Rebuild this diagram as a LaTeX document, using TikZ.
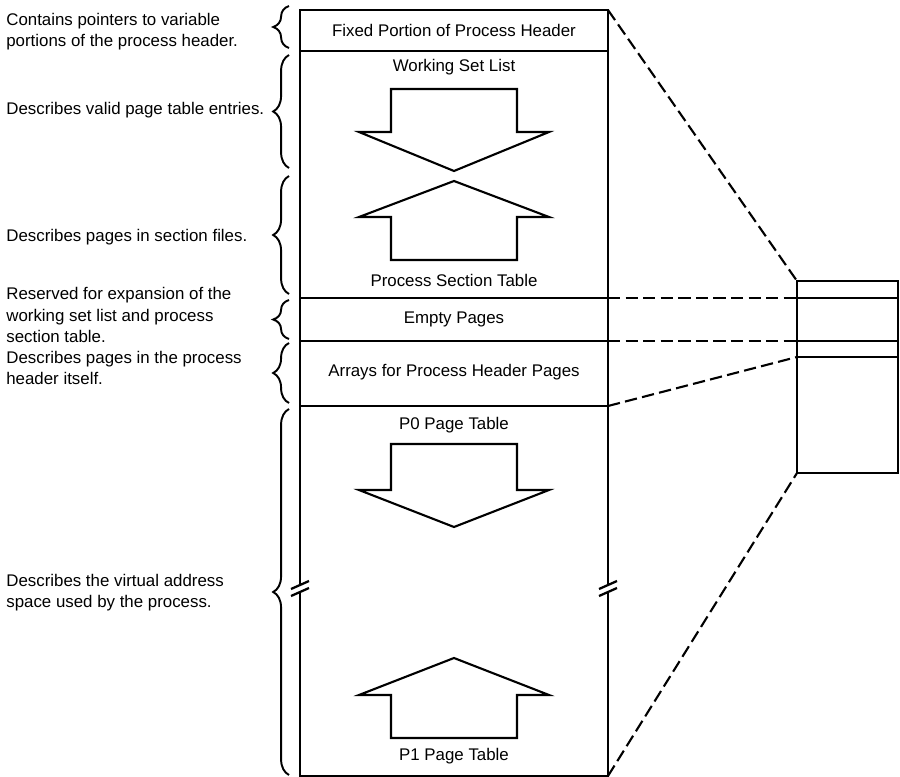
\documentclass[tikz,border=0pt]{standalone}
\usepackage{fontspec}
\setmainfont{Liberation Sans}
\usetikzlibrary{decorations.pathreplacing}

\begin{document}
\begin{tikzpicture}
[x=0.02cm, y=-0.02cm, font=\fontsize{9.6}{12}\selectfont]
\tikzstyle{region}=[inner sep=0mm]
\tikzstyle{note}=[inner sep=0mm, anchor=west, align=left]
\tikzstyle{frame}=[line width=1.3pt]
\tikzstyle{bigarrow}=[line width=1.2pt, line join=miter]
\tikzstyle{link}=[line width=1.2pt, dash pattern=on 7pt off 3pt]
\tikzstyle{curly}=[decorate, decoration={brace, amplitude=9pt}, line width=1.1pt]

\useasboundingbox (0,0) rectangle (900,777);

% process header, left and right edges
\coordinate (L0) at (300,10);   \coordinate (R0) at (608,10);
\coordinate (L1) at (300,51);   \coordinate (R1) at (608,51);
\coordinate (L2) at (300,298);  \coordinate (R2) at (608,298);
\coordinate (L3) at (300,341);  \coordinate (R3) at (608,341);
\coordinate (L4) at (300,406);  \coordinate (R4) at (608,406);
\coordinate (L5) at (300,776);  \coordinate (R5) at (608,776);

% small process header at the right
\coordinate (S0) at (797,281);  \coordinate (E0) at (898,281);
\coordinate (S1) at (797,298);  \coordinate (E1) at (898,298);
\coordinate (S2) at (797,341);  \coordinate (E2) at (898,341);
\coordinate (S3) at (797,357);  \coordinate (E3) at (898,357);
\coordinate (S4) at (797,473);  \coordinate (E4) at (898,473);

\draw[frame]    (300,585) -- (L0) -- (R0) -- (608,585);
\draw[frame]    (300,592) -- (L5) -- (R5) -- (608,592);
\draw[frame]    (L1) -- (R1);
\draw[frame]    (L2) -- (R2);
\draw[frame]    (L3) -- (R3);
\draw[frame]    (L4) -- (R4);
\foreach \x in {300,608}
{
  \draw[frame] (\x-9,589) -- (\x+9,581);
  \draw[frame] (\x-9,596) -- (\x+9,588);
}

\draw[frame]    (S0) -- (E0) -- (E4) -- (S4) -- cycle;
\draw[frame]    (S1) -- (E1);
\draw[frame]    (S2) -- (E2);
\draw[frame]    (S3) -- (E3);

\draw[link]     (R0) -- (S0);
\draw[link]     (R2) -- (S1);
\draw[link]     (R3) -- (S2);
\draw[link]     (R4) -- (S3);
\draw[link]     (R5) -- (S4);

% region labels
\node[region]   (fixed)   at (454,30)  {Fixed Portion of Process Header};
\node[region]   (wsl)     at (454,67)  {Working Set List};
\node[region]   (pst)     at (454,280) {Process Section Table};
\node[region]   (empty)   at (454,319) {Empty Pages};
\node[region]   (arrays)  at (454,372) {Arrays for Process Header Pages};
\node[region]   (p0)      at (454,425) {P0 Page Table};
\node[region]   (p1)      at (454,756) {P1 Page Table};

% growth arrows
\draw[bigarrow] (391,89) -- (517,89) -- (517,132) -- (549,132) -- (454,171)
                -- (359,132) -- (391,132) -- cycle;
\draw[bigarrow] (454,181) -- (549,217) -- (517,217) -- (517,260) -- (391,260)
                -- (391,217) -- (359,217) -- cycle;
\draw[bigarrow] (391,444) -- (517,444) -- (517,490) -- (549,490) -- (454,527)
                -- (359,490) -- (391,490) -- cycle;
\draw[bigarrow] (454,658) -- (549,695) -- (517,695) -- (517,738) -- (391,738)
                -- (391,695) -- (359,695) -- cycle;

% braces and notes
\draw[curly]    (289,48)  -- (289,6);
\draw[curly]    (289,168) -- (289,55);
\draw[curly]    (289,294) -- (289,176);
\draw[curly]    (289,339) -- (289,300);
\draw[curly]    (289,403) -- (289,343);
\draw[curly]    (289,775) -- (289,409);

\node[note]     (n1) at (6,32)    {Contains pointers to variable\\portions of the process header.};
\node[note]     (n2) at (6,110)   {Describes valid page table entries.};
\node[note]     (n3) at (6,237)   {Describes pages in section files.};
\node[note]     (n4) at (6,315)   {Reserved for expansion of the\\working set list and process\\section table.};
\node[note]     (n5) at (6,368)   {Describes pages in the process\\header itself.};
\node[note]     (n6) at (6,593)   {Describes the virtual address\\space used by the process.};
\end{tikzpicture}
\end{document}
